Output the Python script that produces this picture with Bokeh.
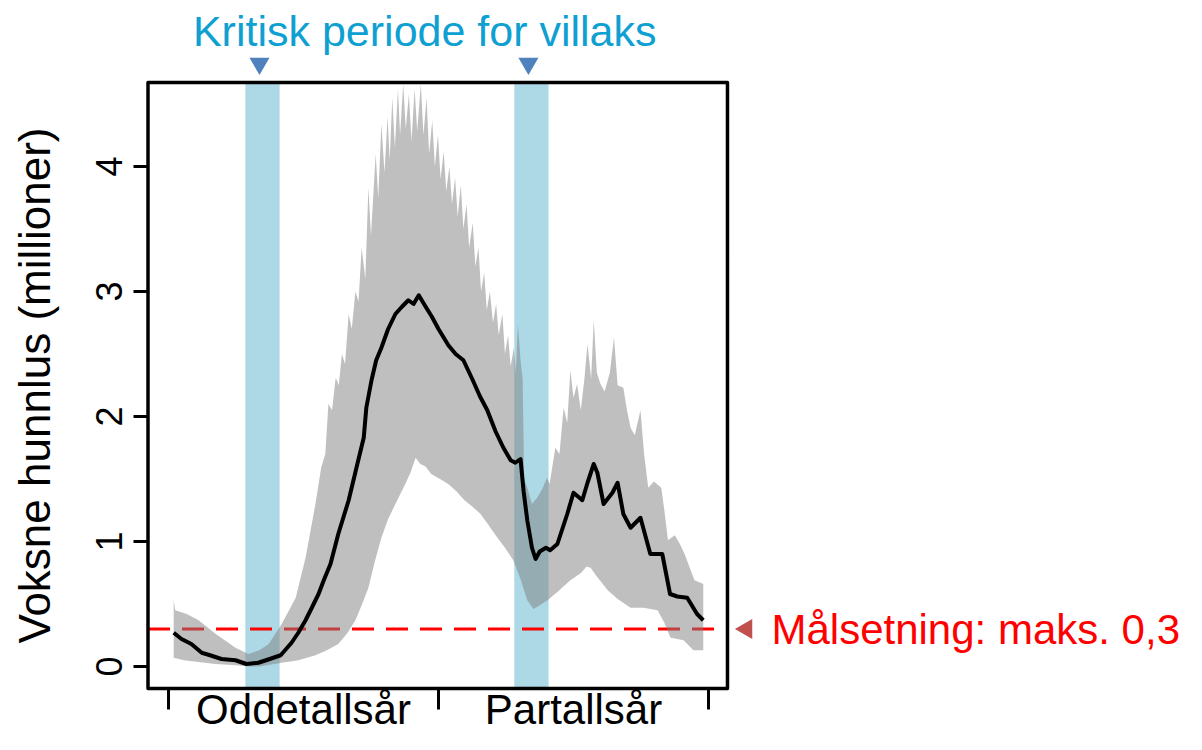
import math
from bokeh.plotting import figure
from bokeh.models import Range1d, FixedTicker, LinearAxis
from bokeh.core.properties import value
from bokeh.embed import file_html
from bokeh.resources import INLINE

# ---------------- data ----------------
mean_weeks = [1.0, 2.5, 4.4, 6.4, 8.0, 10.2, 12.9, 15.0, 17.3, 19.5, 21.6, 23.7, 25.0, 26.4, 27.6, 28.9,
              30.0, 31.2, 32.7, 34.7, 36.2, 37.6, 38.1, 39.1, 40.0, 41.0, 42.3, 43.7, 45.0, 46.2, 47.2,
              48.2, 49.5, 50.7, 52.0, 53.9, 55.3, 56.8, 58.5, 60.0, 61.4, 63.0, 64.5, 65.9, 66.8, 67.8,
              68.4, 69.1, 70.0, 70.7, 71.5, 72.7, 73.5, 74.9, 76.8, 78.0, 79.7, 80.7, 81.9, 82.6, 83.8,
              85.5, 86.5, 87.6, 89.0, 90.9, 92.8, 95.1, 96.6, 98.0, 99.9, 101.8, 103.0]
mean_lice = [0.27, 0.22, 0.18, 0.11, 0.09, 0.06, 0.05, 0.02, 0.03, 0.06, 0.09, 0.19, 0.27, 0.37, 0.47, 0.58,
             0.70, 0.82, 1.06, 1.33, 1.59, 1.83, 2.07, 2.29, 2.45, 2.55, 2.70, 2.82, 2.88, 2.93, 2.90,
             2.97, 2.88, 2.80, 2.70, 2.57, 2.50, 2.45, 2.30, 2.16, 2.05, 1.88, 1.75, 1.65, 1.63, 1.66,
             1.40, 1.17, 0.95, 0.86, 0.92, 0.95, 0.93, 0.98, 1.22, 1.39, 1.33, 1.47, 1.62, 1.55, 1.30,
             1.39, 1.47, 1.22, 1.11, 1.19, 0.90, 0.90, 0.58, 0.56, 0.55, 0.42, 0.37]

upper_weeks = [1.0, 1.3, 3.5, 5.8, 9.1, 12.9, 15.4, 17.5, 19.3, 21.8, 24.5, 26.4, 28.3, 29.4, 30.2, 30.8,
               31.5, 32.2, 32.8, 33.4, 34.0, 34.7, 35.3, 36.0, 36.6, 37.2, 37.9, 38.5, 39.0, 39.9, 40.4,
               41.0, 41.6, 42.2, 42.6, 43.1, 43.6, 44.2, 44.6, 45.2, 45.7, 46.3, 46.8, 47.4, 47.9, 48.6,
               49.1, 49.7, 50.2, 50.8, 51.3, 51.9, 52.4, 53.0, 53.5, 54.1, 54.6, 55.2, 55.7, 56.3, 56.8,
               57.4, 57.9, 58.6, 59.1, 59.7, 60.2, 60.8, 61.3, 61.9, 62.5, 63.1, 63.6, 64.3, 64.8, 65.4,
               65.9, 66.5, 66.9, 67.3, 67.8, 68.2, 68.5, 69.1, 70.0, 71.0, 72.0, 72.9, 73.4, 74.5, 75.3,
               76.1, 76.8, 77.4, 78.0, 78.7, 79.4, 80.1, 80.7, 81.4, 81.9, 82.5, 83.2, 84.0, 85.0, 85.8,
               86.5, 87.6, 88.3, 89.0, 89.8, 90.9, 91.6, 92.4, 93.5, 94.9, 95.5, 96.2, 97.5, 98.5, 99.4,
               100.3, 101.3, 103.0]
upper_lice = [0.53, 0.45, 0.42, 0.37, 0.26, 0.15, 0.10, 0.13, 0.18, 0.34, 0.55, 0.87, 1.30, 1.59, 1.70, 2.10,
              2.05, 2.31, 2.25, 2.50, 2.42, 2.82, 2.70, 3.00, 2.92, 3.35, 3.10, 3.83, 3.45, 4.10, 3.75,
              4.34, 3.95, 4.40, 4.05, 4.55, 4.15, 4.62, 4.25, 4.66, 4.30, 4.58, 4.20, 4.62, 4.28, 4.66,
              4.25, 4.55, 4.10, 4.37, 4.00, 4.25, 3.90, 4.12, 3.80, 4.00, 3.70, 3.91, 3.60, 3.85, 3.50,
              3.70, 3.35, 3.55, 3.20, 3.35, 3.00, 3.15, 2.85, 3.00, 2.75, 2.90, 2.65, 2.82, 2.50, 2.65,
              2.40, 2.55, 2.35, 2.74, 2.45, 2.30, 1.50, 1.43, 1.30, 1.35, 1.42, 1.51, 1.46, 1.75, 1.70,
              2.07, 1.95, 2.37, 2.15, 2.26, 2.05, 2.30, 2.58, 2.30, 2.77, 2.35, 2.26, 2.20, 2.35, 2.63,
              2.25, 2.23, 2.05, 1.91, 1.85, 2.05, 1.70, 1.43, 1.48, 1.43, 1.25, 1.01, 1.05, 0.98, 0.90,
              0.80, 0.69, 0.66]

lower_weeks = [1.0, 3.0, 5.0, 9.0, 13.0, 15.5, 17.5, 21.8, 25.0, 28.3, 30.5, 32.7, 34.5, 36.0, 37.3, 38.5,
               39.8, 41.0, 42.3, 43.7, 45.6, 46.6, 47.6, 48.5, 49.5, 50.6, 52.3, 53.9, 55.5, 57.0, 58.5,
               60.1, 61.5, 63.0, 64.8, 66.4, 67.8, 69.1, 70.3, 71.5, 73.0, 75.0, 77.4, 79.5, 80.5, 81.3,
               82.5, 84.6, 86.5, 89.0, 91.5, 94.2, 95.5, 96.7, 98.0, 99.2, 101.1, 103.0]
lower_lice = [0.07, 0.05, 0.04, 0.02, 0.01, 0.00, 0.00, 0.03, 0.05, 0.09, 0.13, 0.18, 0.27, 0.37, 0.50, 0.63,
              0.85, 1.03, 1.18, 1.30, 1.46, 1.55, 1.67, 1.62, 1.60, 1.54, 1.50, 1.46, 1.40, 1.33, 1.28,
              1.22, 1.14, 1.05, 0.95, 0.85, 0.70, 0.53, 0.46, 0.49, 0.53, 0.60, 0.69, 0.75, 0.80, 0.79,
              0.72, 0.61, 0.54, 0.47, 0.47, 0.45, 0.35, 0.23, 0.22, 0.21, 0.13, 0.13]

critical_start = [14.8, 66.6]
critical_end = [21.4, 73.2]
target_level = 0.3
y_ticks = [0, 1, 2, 3, 4]
x_ticks = [0, 52, 104]
category_pos = [26, 78]
category_labels = ["Oddetallsår", "Partallsår"]
title_text = "Kritisk periode for villaks"
target_text = "Målsetning: maks. 0,3"
y_label = "Voksne hunnlus (millioner)"

# ---------------- layout / style ----------------
FONT = "Liberation Sans"
W, H = 1186, 734
ML = 145
PX_X = 5.192      # pixels per week
PX_Y = 125.0      # pixels per million
# data window of the drawn box
box_left, box_right, box_bottom, box_top = -3.95, 107.66, -0.176, 4.672
# the frame covers the canvas right of the y axis
x_lo = box_left - 2.5 / PX_X
x_hi = x_lo + (W - ML) / PX_X
y_lo = box_bottom - 46 / PX_Y
y_hi = y_lo + H / PX_Y

p = figure(width=W, height=H, x_range=Range1d(x_lo, x_hi), y_range=Range1d(y_lo, y_hi),
           output_backend="svg", toolbar_location=None, x_axis_location=None,
           min_border_left=ML, min_border_right=0, min_border_top=0, min_border_bottom=0)
p.grid.visible = False
p.outline_line_color = None
p.background_fill_color = "white"
p.border_fill_color = "white"

# real y axis (ticks + rotated labels)
ya = p.yaxis[0]
ya.ticker = FixedTicker(ticks=y_ticks, minor_ticks=[])
ya.axis_line_color = None
ya.major_tick_out = 12
ya.major_tick_in = 3
ya.major_tick_line_width = 3
ya.minor_tick_line_color = None
ya.major_label_orientation = "parallel"
ya.major_label_text_font = FONT
ya.major_label_text_font_size = "36px"
ya.major_label_text_color = "black"
ya.major_label_standoff = 12

# outer left axis carrying the y title, centred on the drawn box
y_title_pos = (box_bottom + box_top) / 2
ya2 = LinearAxis(ticker=FixedTicker(ticks=[y_title_pos], minor_ticks=[]),
                 major_label_overrides={y_title_pos: y_label})
ya2.axis_line_color = None
ya2.major_tick_line_color = None
ya2.minor_tick_line_color = None
ya2.major_tick_out = 0
ya2.major_tick_in = 0
ya2.major_label_orientation = "parallel"
ya2.major_label_text_font = FONT
ya2.major_label_text_font_size = "44px"
ya2.major_label_text_color = "black"
ya2.major_label_standoff = 34
p.add_layout(ya2, "left")

# critical periods
p.quad(left=critical_start, right=critical_end, bottom=box_bottom, top=box_top,
       fill_color="#ADD8E6", line_alpha=0)

# target line
p.line([box_left, box_right], [target_level, target_level], line_color="#FF0000",
       line_width=3, line_dash="22 12")

# uncertainty band
band_x = upper_weeks + lower_weeks[::-1]
band_y = upper_lice + lower_lice[::-1]
p.patch(band_x, band_y, fill_color="#7F7F7F", fill_alpha=0.5, line_alpha=0)

# mean
p.line(mean_weeks, mean_lice, line_color="black", line_width=4, line_join="round")

# box and x ticks
p.quad(left=box_left, right=box_right, bottom=box_bottom, top=box_top, fill_alpha=0,
       line_color="black", line_width=3.5, line_join="round")
p.segment(x0=x_ticks, y0=[box_bottom] * len(x_ticks), x1=x_ticks,
          y1=[box_bottom - 21 / PX_Y] * len(x_ticks), line_color="black", line_width=3)

# category labels
p.text(x=category_pos, y=[box_bottom - 21 / PX_Y] * len(category_pos), text=category_labels,
       text_font=value(FONT), text_font_size="42px", text_color="black",
       text_align="center", text_baseline="middle")

# markers above the critical periods
marker_x = [(s + e) / 2 - 3 / PX_X for s, e in zip(critical_start, critical_end)]
p.scatter(marker_x, [box_top + 19 / PX_Y] * len(marker_x), marker="inverted_triangle", size=20,
          fill_color="#4F81BD", line_alpha=0)

# title
p.text(x=[(box_left + box_right) / 2 - 13 / PX_X], y=[box_top + 52 / PX_Y], text=[title_text],
       text_font=value(FONT), text_font_size="43px", text_color="#0FA0D2",
       text_align="center", text_baseline="middle")

# target marker and text
p.scatter([box_right + 19 / PX_X], [target_level], marker="triangle", size=20, angle=math.pi / 2,
          fill_color="#C0504D", line_alpha=0)
p.text(x=[box_right + 44 / PX_X], y=[target_level], text=[target_text],
       text_font=value(FONT), text_font_size="42px", text_color="#FF0000",
       text_align="left", text_baseline="middle")

open("out.html", "w").write(file_html(p, INLINE))
